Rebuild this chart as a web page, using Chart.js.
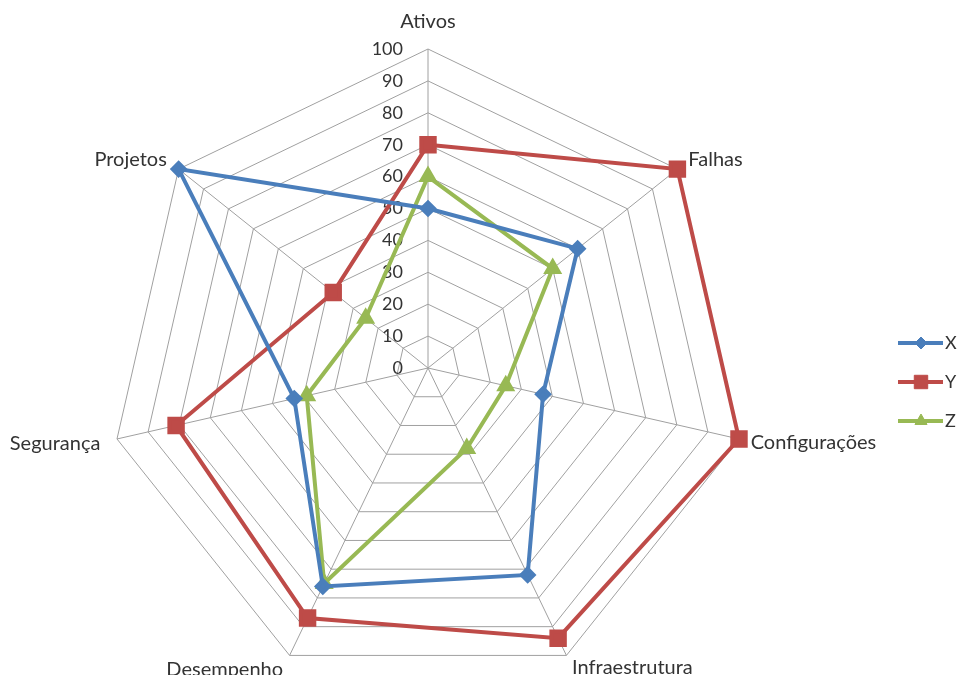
<!DOCTYPE html>
<html>
<head>
<meta charset="utf-8">
<title>Radar</title>
<script src="https://cdn.jsdelivr.net/npm/chart.js"></script>
<style>
    html, body { margin: 0; padding: 0; background: #ffffff; overflow: hidden; }
    #wrap { position: relative; width: 958px; height: 675px; overflow: hidden; }
    #radarChart { position: absolute; left: -102px; top: -6px; }
</style>
</head>
<body>
<div id="wrap"><canvas id="radarChart" width="1060" height="712"></canvas></div>
<script>
const categories = ['Ativos', 'Falhas', 'Configurações', 'Infraestrutura', 'Desempenho', 'Segurança', 'Projetos'];
const seriesNames = ['X', 'Y', 'Z'];
const valuesX = [50, 60, 37, 72, 76, 43, 100];
const valuesY = [70, 100, 100, 94, 87, 81, 38];
const valuesZ = [60, 50, 25, 28, 75, 39, 25];
const axisMin = 0;
const axisMax = 100;
const axisStep = 10;

document.addEventListener('DOMContentLoaded', function() {
    const textColor = '#333333';
    const fontFamily = 'Lato, "Open Sans", sans-serif';
    const tickFontSize = 18;
    const labelFontSize = 20;
    const gridColor = '#a0a0a0';

    // padding of each axis label, outward from the end of its spoke
    const labelPadding = [17, 14, 12, 13, 15, 17, 15];

    // numbers 0..100 sit left of the vertical spoke, right aligned
    const tickLabels = {
        id: 'tickLabels',
        beforeDatasetsDraw(chart) {
            const scale = chart.scales.r;
            const ctx = chart.ctx;
            ctx.save();
            ctx.font = tickFontSize + 'px ' + fontFamily;
            ctx.fillStyle = textColor;
            ctx.textAlign = 'right';
            ctx.textBaseline = 'middle';
            scale.ticks.forEach(tick => {
                const dist = scale.getDistanceFromCenterForValue(tick.value);
                ctx.fillText(String(tick.value), scale.xCenter - 25, scale.yCenter - dist);
            });
            ctx.restore();
        }
    };

    // excel style legend: line with the marker in the middle
    const sideLegend = {
        id: 'sideLegend',
        afterDraw(chart) {
            const ctx = chart.ctx;
            chart.data.datasets.forEach((ds, i) => {
                const y = 349 + i * 39;
                ctx.save();
                ctx.strokeStyle = ds.borderColor;
                ctx.lineWidth = ds.borderWidth;
                ctx.beginPath();
                ctx.moveTo(1000, y);
                ctx.lineTo(1045, y);
                ctx.stroke();
                ctx.fillStyle = ds.pointBackgroundColor;
                ctx.strokeStyle = ds.pointBorderColor;
                ctx.lineWidth = 1;
                Chart.helpers.drawPoint(ctx, {
                    pointStyle: ds.pointStyle,
                    radius: ds.pointRadius,
                    rotation: 0,
                    borderWidth: 1
                }, 1023, y);
                ctx.fillStyle = textColor;
                ctx.font = tickFontSize + 'px ' + fontFamily;
                ctx.textAlign = 'left';
                ctx.textBaseline = 'middle';
                ctx.fillText(ds.label, 1047, y);
                ctx.restore();
            });
        }
    };

    const radarCtx = document.getElementById('radarChart').getContext('2d');
    new Chart(radarCtx, {
        type: 'radar',
        data: {
            labels: categories,
            datasets: [{
                label: seriesNames[0],
                data: valuesX,
                borderColor: '#4a7ebb',
                pointBackgroundColor: '#4a7ebb',
                pointBorderColor: '#4a7ebb',
                pointStyle: 'rectRot',
                pointRadius: 6,
                borderWidth: 4,
                fill: false
            }, {
                label: seriesNames[1],
                data: valuesY,
                borderColor: '#be4b48',
                pointBackgroundColor: '#be4b48',
                pointBorderColor: '#be4b48',
                pointStyle: 'rect',
                pointRadius: 9.5,
                borderWidth: 4,
                fill: false
            }, {
                label: seriesNames[2],
                data: valuesZ,
                borderColor: '#98b954',
                pointBackgroundColor: '#98b954',
                pointBorderColor: '#98b954',
                pointStyle: 'triangle',
                pointRadius: 7,
                borderWidth: 4,
                fill: false
            }]
        },
        options: {
            responsive: false,
            animation: false,
            layout: { padding: 0 },
            elements: {
                line: { tension: 0 },
                point: { borderWidth: 1 }
            },
            plugins: {
                legend: { display: false },
                tooltip: { enabled: false }
            },
            scales: {
                r: {
                    min: axisMin,
                    max: axisMax,
                    beginAtZero: true,
                    ticks: { display: false, stepSize: axisStep },
                    grid: { color: gridColor, lineWidth: 1, circular: false },
                    angleLines: { color: gridColor, lineWidth: 1 },
                    pointLabels: {
                        color: textColor,
                        padding: (c) => labelPadding[c.index],
                        font: (c) => ({
                            family: fontFamily,
                            size: labelFontSize,
                            lineHeight: c.index === 0 ? 1 : 0.05
                        })
                    }
                }
            }
        },
        plugins: [tickLabels, sideLegend]
    });
});
</script>
</body>
</html>
